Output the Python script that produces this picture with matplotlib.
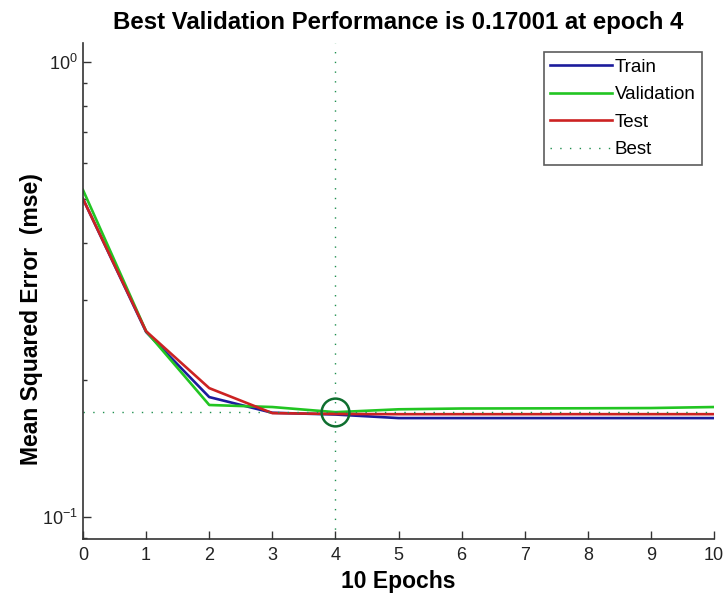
import matplotlib
matplotlib.use("Agg")
import matplotlib.pyplot as plt
from matplotlib.ticker import LogLocator, NullFormatter, FixedLocator

plt.rcParams['font.family'] = ['Liberation Sans', 'DejaVu Sans']
plt.rcParams['axes.unicode_minus'] = False

epochs = [0, 1, 2, 3, 4, 5, 6, 7, 8, 9, 10]
train = [0.500, 0.255, 0.1835, 0.1695, 0.1680, 0.1650, 0.1650, 0.1650, 0.1650, 0.1650, 0.1650]
validation = [0.523, 0.256, 0.1763, 0.1745, 0.17001, 0.1725, 0.1732, 0.1733, 0.1734, 0.1736, 0.1745]
test = [0.500, 0.256, 0.192, 0.1692, 0.1685, 0.1683, 0.1683, 0.1683, 0.1683, 0.1683, 0.1683]
best_epoch = 4
best_value = 0.17001
xtick_labels = ['0', '1', '2', '3', '4', '5', '6', '7', '8', '9', '10']

fig = plt.figure(figsize=(7.25, 5.96), dpi=100)
ax = fig.add_axes([0.1145, 0.0956, 0.8705, 0.8322])

ax.plot(epochs, train, color='#1c1c9c', lw=1.9, label='Train')
ax.plot(epochs, validation, color='#22c522', lw=1.9, label='Validation')
ax.plot(epochs, test, color='#cc2222', lw=1.9, label='Test')
ax.axhline(best_value, color='#1f8f4f', lw=1.0, ls=(0, (1, 6)), label='Best')
ax.axvline(best_epoch, color='#1f8f4f', lw=1.0, ls=(0, (1, 6)))
ax.plot([best_epoch], [best_value], marker='o', ms=20, mfc='none', mec='#0f6f2f', mew=1.8, ls='none')

ax.set_yscale('log')
ax.set_xlim(0, 10)
ax.set_ylim(0.0895, 1.10)
ax.xaxis.set_major_locator(FixedLocator(epochs))
ax.set_xticklabels(xtick_labels)
ax.yaxis.set_major_locator(LogLocator(base=10))
ax.yaxis.set_minor_locator(LogLocator(base=10, subs=range(2, 10)))
ax.yaxis.set_minor_formatter(NullFormatter())

for s in ['top', 'right']:
    ax.spines[s].set_visible(False)
for s in ['left', 'bottom']:
    ax.spines[s].set_color('#333333')
    ax.spines[s].set_linewidth(1.2)

ax.tick_params(axis='both', which='major', direction='in', length=6, width=1, labelsize=13, colors='#333333', labelcolor='#222222')
ax.tick_params(axis='y', which='minor', direction='in', length=3, width=1, colors='#333333')
ax.tick_params(axis='x', pad=6)

ax.set_title('Best Validation Performance is 0.17001 at epoch 4', fontsize=17.3, fontweight='bold', pad=10)
ax.set_xlabel('10 Epochs', fontsize=16.5, fontweight='bold', labelpad=4)
ax.set_ylabel('Mean Squared Error  (mse)', fontsize=16.5, fontweight='bold')
ax.yaxis.set_label_coords(-0.064, 0.443)

leg = ax.legend(loc='upper right', bbox_to_anchor=(0.99, 0.993), fontsize=13.5, frameon=True, fancybox=False,
                handlelength=3.3, handletextpad=0.15, borderpad=0.35, labelspacing=0.55, borderaxespad=0.3)
leg.get_frame().set_edgecolor('#333333')
leg.get_frame().set_linewidth(1.2)

fig.savefig('out.png', dpi=100)
